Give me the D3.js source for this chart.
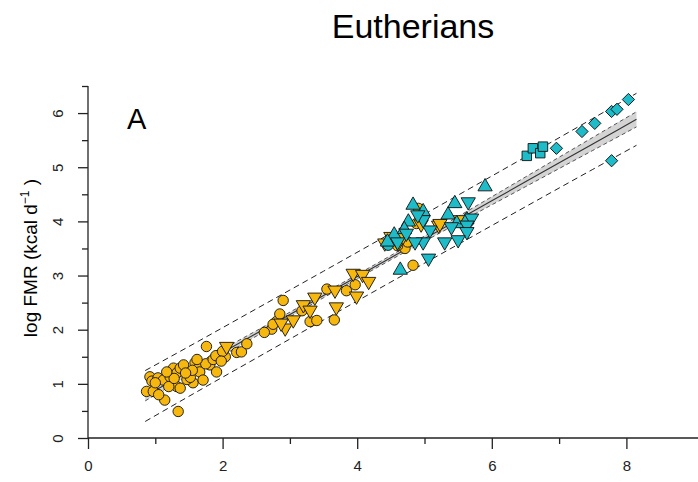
<!DOCTYPE html>
<html><head><meta charset="utf-8">
<script src="https://cdn.jsdelivr.net/npm/d3@7"></script>
<style>body{margin:0;background:#fff}svg{display:block}text{font-family:Arial,"Liberation Sans",sans-serif}</style>
</head><body>
<script>
// ---- data (log body mass vs log FMR) ----
const orangeCircleX = [0.87,0.97,0.92,0.95,1.04,1.12,1.14,1.22,1.27,1.32,1.34,1.37,1.42,1.32,1.37,1.56,1.59,1.64,1.66,1.71,1.76,1.81,1.91,1.95,2.04,2.21,2.28,2.36,1.05,1.20,1.47,1.52,1.75,1.86,1.90,1.28,1.55,2.00,1.00,1.17,1.45,1.62,1.98,2.73,2.80,2.85,2.90,3.18,3.30,3.40,3.55,3.66,3.84,3.97,2.62,2.75,4.88,4.83,4.71,4.91,4.60,4.75];
const orangeCircleY = [0.86,0.86,1.13,1.05,1.11,1.07,0.70,1.13,1.29,1.20,0.49,1.29,1.35,0.95,0.92,1.02,1.39,1.29,1.22,1.07,1.69,1.35,1.22,1.53,1.50,1.58,1.59,1.74,0.80,0.95,1.08,1.12,1.37,1.45,1.52,1.10,1.25,1.60,1.02,1.22,1.20,1.45,1.42,2.01,2.15,2.29,2.54,2.35,2.15,2.17,2.75,2.18,2.72,2.83,1.95,2.10,3.96,3.19,3.50,4.24,3.55,3.62];
const orangeDownX = [2.06,2.93,3.05,3.20,3.30,3.37,3.67,3.69,3.94,4.08,4.17,3.99,2.87,5.21,4.41,4.61,5.53,5.23,4.50,4.68,4.95];
const orangeDownY = [1.69,2.03,2.18,2.46,2.36,2.60,2.73,2.42,3.04,3.02,2.89,2.62,2.12,3.93,3.60,3.60,4.03,3.96,3.72,3.72,3.95];
const cyanUpX = [5.90,5.45,5.35,4.98,4.83,4.76,4.64,5.48,5.63,4.55,4.70,4.45];
const cyanUpY = [4.64,4.33,4.12,4.18,4.30,3.99,3.10,3.96,4.03,3.75,3.85,3.62];
const cyanDownX = [5.65,5.70,5.63,5.63,5.50,5.30,5.08,4.98,4.86,5.06,4.73,4.98,4.90,4.60,5.40];
const cyanDownY = [4.36,4.06,3.93,3.81,3.66,3.62,3.84,3.62,3.62,3.32,3.78,4.03,4.12,3.62,3.90];
const cyanCircleX = [4.46];
const cyanCircleY = [3.56];
const cyanSquareX = [6.52,6.61,6.72,6.76];
const cyanSquareY = [5.21,5.35,5.26,5.38];
const cyanDiamondX = [6.96,7.34,7.53,7.78,7.86,8.03,7.78];
const cyanDiamondY = [5.35,5.66,5.81,6.03,6.07,6.25,5.12];
// fitted line and bands
const fitIntercept = 0.18, fitSlope = 0.70;
const bandX   = [0.85,1.5,2.5,3.5,4.5,5.5,6.5,7.5,8.15];
const ciHalf  = [0.09,0.07,0.05,0.04,0.04,0.06,0.09,0.12,0.14];
const piHalf  = [0.47,0.46,0.455,0.45,0.45,0.455,0.46,0.47,0.48];
const xTicksMajor = [0,2,4,6,8], xTicksMinor = [1,3,5,7];
const yTicksMajor = [0,1,2,3,4,5,6], yTicksMinor = [0.5,1.5,2.5,3.5,4.5,5.5,6.5];
const title = "Eutherians", panel = "A";

const W = 698, H = 482;
const orange = "#F6B70E", cyan = "#1DBCC8";
const svg = d3.select("body").append("svg").attr("width", W).attr("height", H);
const x = d3.scaleLinear().domain([0, 9]).range([88, 693.7]);
const y = d3.scaleLinear().domain([0, 6.5]).range([438, 86]);

// title & panel
svg.append("text").attr("x", 413).attr("y", 38).attr("text-anchor", "middle")
  .attr("font-size", 34).text(title);
svg.append("text").attr("x", 127).attr("y", 129).attr("font-size", 29).text(panel);

// axes
const gx = svg.append("g").attr("transform", `translate(0,${y(0)})`);
gx.call(d3.axisBottom(x).tickValues(xTicksMajor).tickSize(11).tickPadding(11).tickFormat(d3.format("d")));
gx.call(g => g.select(".domain").remove());
svg.append("g").attr("transform", `translate(0,${y(0)})`)
  .call(d3.axisBottom(x).tickValues(xTicksMinor).tickSize(6).tickFormat(""))
  .call(g => g.select(".domain").remove());
svg.append("line").attr("x1", x(0)).attr("x2", W).attr("y1", y(0)).attr("y2", y(0))
  .attr("stroke", "#222").attr("stroke-width", 1.3);

const gy = svg.append("g").attr("transform", `translate(${x(0)},0)`);
gy.call(d3.axisLeft(y).tickValues(yTicksMajor).tickSize(10).tickFormat(d3.format("d")));
gy.selectAll(".tick text").attr("transform", "rotate(-90)").attr("x", 0).attr("y", -30)
  .attr("dy", "0.35em").attr("text-anchor", "middle");
gy.select(".domain").remove();
svg.append("g").attr("transform", `translate(${x(0)},0)`)
  .call(d3.axisLeft(y).tickValues(yTicksMinor).tickSize(6).tickFormat(""))
  .call(g => g.select(".domain").remove());
svg.append("line").attr("x1", x(0)).attr("x2", x(0)).attr("y1", y(0)).attr("y2", y(6.5))
  .attr("stroke", "#222").attr("stroke-width", 1.3);
svg.selectAll(".tick line").attr("stroke", "#222").attr("stroke-width", 1.3);
svg.selectAll("g").attr("font-size", null);
svg.selectAll(".tick text").style("font-size", "15px").attr("fill", "#222");

const yl = svg.append("text").attr("transform", "translate(37,258) rotate(-90)")
  .attr("text-anchor", "middle").attr("font-size", 19);
yl.append("tspan").text("log FMR (kcal d");
yl.append("tspan").attr("font-size", 12).attr("dy", -8).text("\u22121");
yl.append("tspan").attr("dy", 8).text(" )");

// bands
const fit = v => fitIntercept + fitSlope * v;
const band = bandX.map((v, i) => ({x: v, f: fit(v), ci: ciHalf[i], pi: piHalf[i]}));
svg.append("path").datum(band).attr("fill", "#d4d4d4")
  .attr("d", d3.area().curve(d3.curveMonotoneX).x(d => x(d.x)).y0(d => y(d.f - d.ci)).y1(d => y(d.f + d.ci)));
const dashLine = acc => d3.line().curve(d3.curveMonotoneX).x(d => x(d.x)).y(acc);
[d => y(d.f + d.ci), d => y(d.f - d.ci)].forEach(a =>
  svg.append("path").datum(band).attr("fill", "none").attr("stroke", "#444").attr("stroke-width", 0.9)
    .attr("stroke-dasharray", "4,3").attr("d", dashLine(a)));
[d => y(d.f + d.pi), d => y(d.f - d.pi)].forEach(a =>
  svg.append("path").datum(band).attr("fill", "none").attr("stroke", "#222").attr("stroke-width", 1)
    .attr("stroke-dasharray", "6,4").attr("d", dashLine(a)));
svg.append("path").datum(band).attr("fill", "none").attr("stroke", "#333").attr("stroke-width", 1.1)
  .attr("d", dashLine(d => y(d.f)));

// points
function pts(xs, ys, type, fill, size, rot) {
  const data = xs.map((v, i) => [v, ys[i]]);
  svg.append("g").selectAll("path").data(data).join("path")
    .attr("d", d3.symbol().type(type).size(size))
    .attr("transform", d => `translate(${x(d[0])},${y(d[1])}) rotate(${rot})`)
    .attr("fill", fill).attr("stroke", "#111").attr("stroke-width", 0.9);
}
pts(orangeCircleX, orangeCircleY, d3.symbolCircle, orange, 85, 0);
pts(orangeDownX, orangeDownY, d3.symbolTriangle, orange, 88, 180);
pts(cyanCircleX, cyanCircleY, d3.symbolCircle, cyan, 85, 0);
pts(cyanUpX, cyanUpY, d3.symbolTriangle, cyan, 88, 0);
pts(cyanDownX, cyanDownY, d3.symbolTriangle, cyan, 88, 180);
pts(cyanSquareX, cyanSquareY, d3.symbolSquare, cyan, 90, 0);
pts(cyanDiamondX, cyanDiamondY, d3.symbolSquare, cyan, 75, 45);
</script>
</body></html>
